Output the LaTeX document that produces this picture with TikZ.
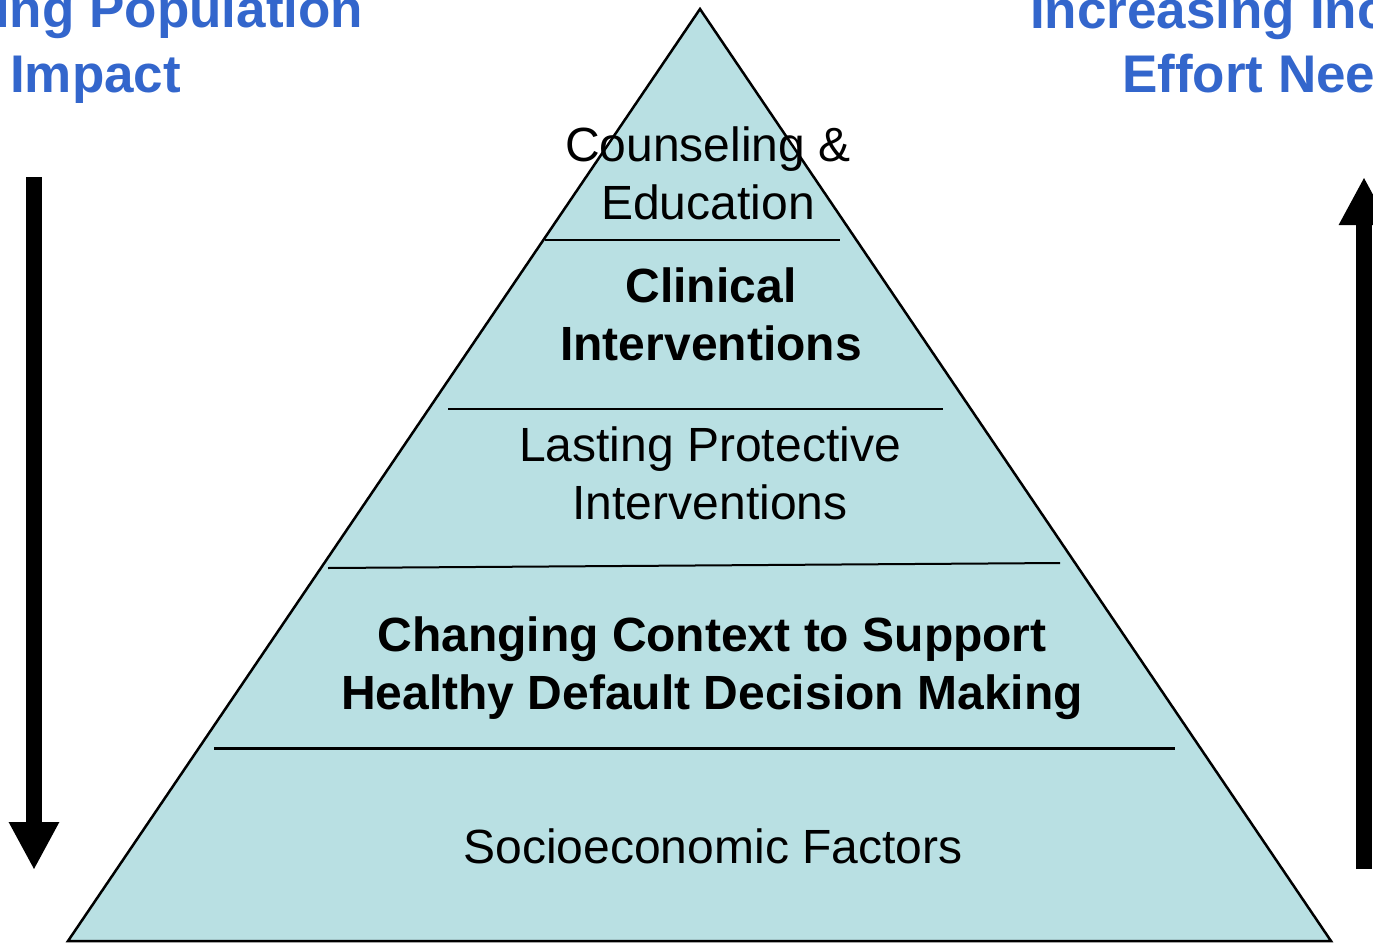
\documentclass[tikz,border=0pt]{standalone}
\usepackage{fontspec}
\setmainfont{Liberation Sans}
\usetikzlibrary{arrows.meta}
\definecolor{pyrfill}{HTML}{B9E0E3}
\definecolor{headblue}{HTML}{3366CC}

\begin{document}
\begin{tikzpicture}[x=1pt, y=-1pt,
	every node/.style={inner sep=0pt, align=center, font=\fontsize{48}{58}\selectfont},
	boldtext/.style={font=\fontsize{48}{58}\selectfont\bfseries},
	heading/.style={text=headblue, font=\fontsize{53}{64}\selectfont\bfseries},
	tier/.style={line width=2pt},
	bigarrow/.style={line width=16pt, -{Triangle[length=48pt, width=47pt]}}]
\useasboundingbox (0,0) rectangle (1373,945);

\filldraw[fill=pyrfill, draw=black, line width=2.5pt, line join=miter]
	(700,9) -- (1331,941) -- (68,941) -- cycle;
\draw[tier] (545,240) -- (840,240);
\draw[tier] (448,409) -- (943,409);
\draw[tier] (328,568) -- (1060,563);
\draw[tier, line width=3pt] (214,748) -- (1175,748);

\node (counsel) at (708,173) {Counseling \&\\Education};
\node[boldtext] (clinical) at (711,314) {Clinical\\Interventions};
\node (lasting) at (710,473) {Lasting Protective\\Interventions};
\node[boldtext] (context) at (712,668) {Changing Context to Support\\Healthy Default Decision Making};
\node (socio) at (713,846) {Socioeconomic Factors};

\node[heading, anchor=base west] (popline) at (-5,27) {ing Population};
\node[heading, anchor=base west] (impact) at (10,92) {Impact};
\node[heading, anchor=base west] (incline) at (1030,28) {Increasing Inc};
\node[heading, anchor=base west] (effort) at (1122,92) {Effort Nee};

\coordinate (popstart) at (34,177);
\coordinate (popend) at (34,870);
\coordinate (effstart) at (1364,869);
\coordinate (effend) at (1364,177);
\draw[bigarrow] (popstart) -- (popend);
\draw[bigarrow] (effstart) -- (effend);
\end{tikzpicture}
\end{document}
